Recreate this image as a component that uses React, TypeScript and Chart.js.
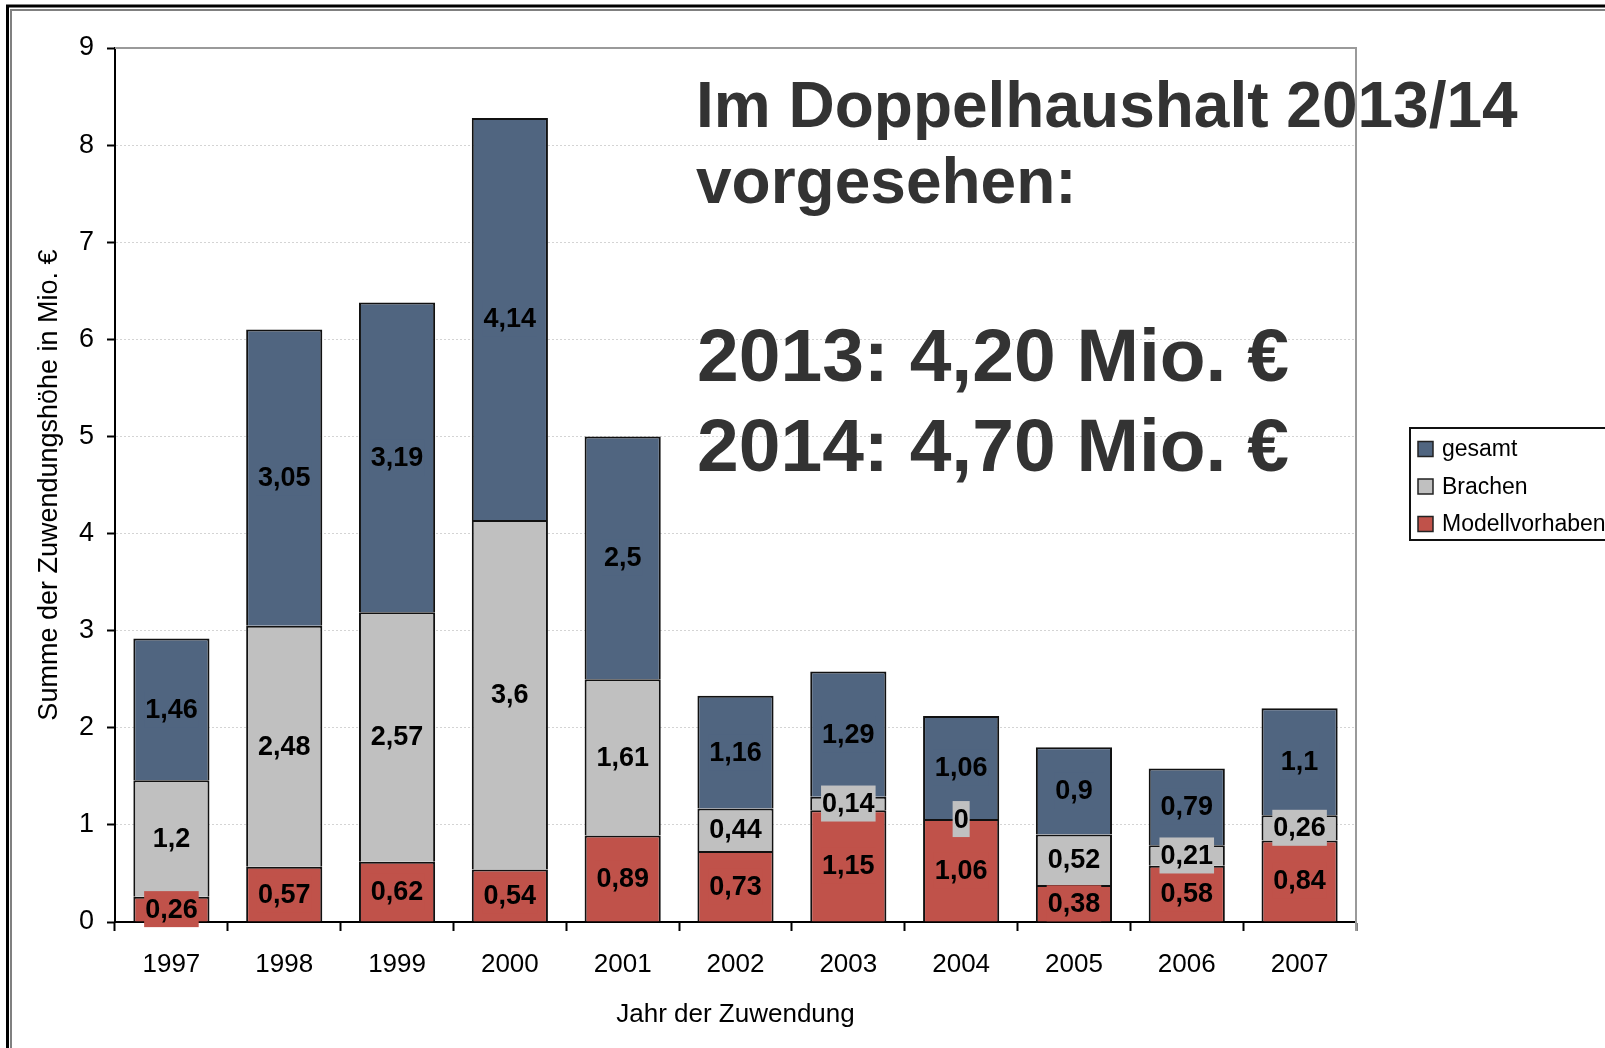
import React, { useEffect, useRef } from "react";
import { Chart, registerables } from "chart.js";

Chart.register(...registerables);

const years = ["1997", "1998", "1999", "2000", "2001", "2002", "2003", "2004", "2005", "2006", "2007"];
const modellvorhaben = [0.26, 0.57, 0.62, 0.54, 0.89, 0.73, 1.15, 1.06, 0.38, 0.58, 0.84];
const brachen = [1.2, 2.48, 2.57, 3.6, 1.61, 0.44, 0.14, 0, 0.52, 0.21, 0.26];
const gesamt = [1.46, 3.05, 3.19, 4.14, 2.5, 1.16, 1.29, 1.06, 0.9, 0.79, 1.1];
const yTicks = [0, 1, 2, 3, 4, 5, 6, 7, 8, 9];

const COL_GESAMT = "#506580";
const COL_BRACHEN = "#C0C0C0";
const COL_MODELL = "#C0524A";
const FONT = "'Liberation Sans', Arial, sans-serif";

const overlayLines = [
  { text: "Im Doppelhaushalt 2013/14", x: 696, y: 127, size: 64 },
  { text: "vorgesehen:", x: 696, y: 203, size: 64 },
  { text: "2013: 4,20 Mio. €", x: 697, y: 381, size: 75 },
  { text: "2014: 4,70 Mio. €", x: 697, y: 471, size: 75 },
];
const legendItems = [
  { label: "gesamt", color: COL_GESAMT },
  { label: "Brachen", color: COL_BRACHEN },
  { label: "Modellvorhaben", color: COL_MODELL },
];

const decorPlugin = {
  id: "decor",
  afterDraw(chart: any) {
    const ctx = chart.ctx;
    const ca = chart.chartArea;
    ctx.save();
    // plot area border top & right (gray)
    ctx.strokeStyle = "#9a9a9a";
    ctx.lineWidth = 2;
    ctx.beginPath();
    ctx.moveTo(ca.left, ca.top);
    ctx.lineTo(ca.right, ca.top);
    ctx.lineTo(ca.right, ca.bottom + 9);
    ctx.stroke();

    // data labels
    chart.data.datasets.forEach((ds: any, di: number) => {
      const meta = chart.getDatasetMeta(di);
      meta.data.forEach((el: any, i: number) => {
        const v = ds.data[i];
        const p = el.getProps(["x", "y", "base"], true);
        const cy = (p.y + p.base) / 2;
        const txt = String(v).replace(".", ",");
        ctx.font = `bold 27px ${FONT}`;
        const w = ctx.measureText(txt).width;
        ctx.fillStyle = ds.backgroundColor;
        ctx.fillRect(p.x - w / 2 - 1, cy - 18, w + 2, 36);
        ctx.fillStyle = "#000";
        ctx.textAlign = "center";
        ctx.textBaseline = "middle";
        ctx.fillText(txt, p.x, cy + 1);
      });
    });

    // axis titles
    ctx.fillStyle = "#000";
    ctx.font = `26px ${FONT}`;
    ctx.textAlign = "center";
    ctx.textBaseline = "middle";
    ctx.fillText("Jahr der Zuwendung", (ca.left + ca.right) / 2, 1015);
    ctx.save();
    ctx.font = `27px ${FONT}`;
    ctx.translate(50, (ca.top + ca.bottom) / 2);
    ctx.rotate(-Math.PI / 2);
    ctx.fillText("Summe der Zuwendungshöhe in Mio. €", 0, 0);
    ctx.restore();

    // overlay big text
    ctx.fillStyle = "#333333";
    ctx.textAlign = "left";
    ctx.textBaseline = "alphabetic";
    overlayLines.forEach((l) => {
      ctx.font = `bold ${l.size}px ${FONT}`;
      ctx.fillText(l.text, l.x, l.y);
    });

    // legend
    ctx.strokeStyle = "#111";
    ctx.lineWidth = 2;
    ctx.fillStyle = "#fff";
    ctx.fillRect(1410, 428, 220, 112);
    ctx.strokeRect(1410, 428, 220, 112);
    ctx.font = `23px ${FONT}`;
    ctx.textBaseline = "middle";
    legendItems.forEach((it, k) => {
      const cy = 449 + k * 37.5;
      ctx.fillStyle = it.color;
      ctx.fillRect(1418, cy - 7.5, 15, 15);
      ctx.lineWidth = 1.5;
      ctx.strokeStyle = "#222";
      ctx.strokeRect(1418, cy - 7.5, 15, 15);
      ctx.fillStyle = "#000";
      ctx.fillText(it.label, 1442, cy + 1);
    });

    // outer frame
    ctx.strokeStyle = "#000";
    ctx.lineWidth = 3;
    ctx.beginPath();
    ctx.moveTo(7.5, 1048);
    ctx.lineTo(7.5, 6);
    ctx.lineTo(1605, 6);
    ctx.stroke();
    ctx.strokeStyle = "#808080";
    ctx.lineWidth = 2;
    ctx.beginPath();
    ctx.moveTo(11, 1048);
    ctx.lineTo(11, 10);
    ctx.lineTo(1605, 10);
    ctx.stroke();
    ctx.restore();
  },
};

export default function App() {
  const ref = useRef<HTMLCanvasElement | null>(null);
  useEffect(() => {
    if (!ref.current) return;
    const barOpts = {
      barPercentage: 0.675,
      categoryPercentage: 1,
      borderColor: "#111111",
      borderWidth: 2,
      borderSkipped: "start" as const,
    };
    const chart = new Chart(ref.current, {
      type: "bar",
      data: {
        labels: years,
        datasets: [
          { label: "Modellvorhaben", data: modellvorhaben, backgroundColor: COL_MODELL, ...barOpts },
          { label: "Brachen", data: brachen, backgroundColor: COL_BRACHEN, ...barOpts },
          { label: "gesamt", data: gesamt, backgroundColor: COL_GESAMT, ...barOpts },
        ],
      },
      options: {
        responsive: false,
        animation: false,
        devicePixelRatio: 1,
        layout: { padding: { top: 48, right: 249, left: 0, bottom: 0 } },
        plugins: { legend: { display: false }, tooltip: { enabled: false }, title: { display: false } },
        scales: {
          x: {
            stacked: true,
            offset: true,
            grid: { display: true, drawOnChartArea: false, offset: true, tickLength: 9, tickColor: "#000", tickWidth: 2 },
            border: { display: true, color: "#000", width: 2 },
            ticks: { color: "#000", font: { family: FONT, size: 26 }, padding: 18, maxRotation: 0 },
            afterFit: (s: any) => { s.height = 126; },
          },
          y: {
            stacked: true,
            min: 0,
            max: 9,
            afterBuildTicks: (s: any) => { s.ticks = yTicks.map((v) => ({ value: v })); },
            grid: { color: "#d4d4d4", lineWidth: 1, tickLength: 8, tickColor: "#000", tickWidth: 2 },
            border: { display: true, color: "#000", width: 2, dash: [2, 2] },
            ticks: { color: "#000", font: { family: FONT, size: 27 }, padding: 13 },
            afterFit: (s: any) => { s.width = 115; },
          },
        },
      },
      plugins: [decorPlugin],
    });
    return () => chart.destroy();
  }, []);
  return (
    <div style={{ position: "absolute", left: 0, top: 0, width: 1605, height: 1048, background: "#fff" }}>
      <canvas ref={ref} width={1605} height={1048} style={{ width: 1605, height: 1048, display: "block" }} />
    </div>
  );
}
